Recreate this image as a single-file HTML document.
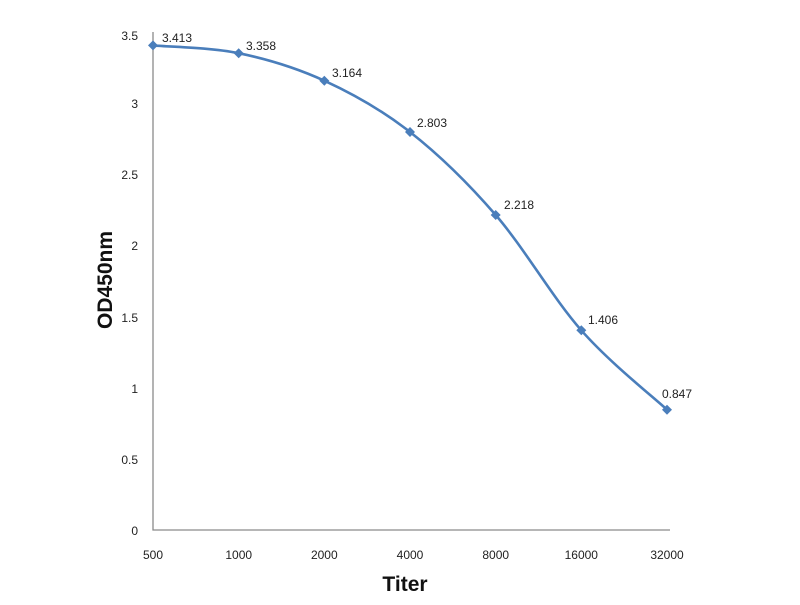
<!DOCTYPE html>
<html><head><meta charset="utf-8"><style>html,body{margin:0;padding:0;background:#fff}</style></head>
<body>
<svg width="800" height="600" xmlns="http://www.w3.org/2000/svg" font-family="Liberation Sans, sans-serif">
<rect width="800" height="600" fill="#fff"/>
<path d="M153,32 V530 H670" fill="none" stroke="#8a8a8a" stroke-width="1.3"/>
<g font-size="12" fill="#222" text-anchor="end">
<text x="138" y="40">3.5</text><text x="138" y="108">3</text><text x="138" y="179">2.5</text>
<text x="138" y="250">2</text><text x="138" y="322">1.5</text><text x="138" y="393">1</text>
<text x="138" y="464">0.5</text><text x="138" y="535">0</text>
</g>
<g font-size="12" fill="#222" text-anchor="middle">
<text x="153" y="559">500</text><text x="238.7" y="559">1000</text><text x="324.3" y="559">2000</text>
<text x="410" y="559">4000</text><text x="495.7" y="559">8000</text><text x="581.3" y="559">16000</text><text x="667" y="559">32000</text>
</g>
<path d="M153,45.4 C167.3,46.7 210.1,47.3 238.7,53.2 C267.2,59.1 295.7,67.6 324.3,80.7 C352.8,93.8 381.4,109.6 410,132 C438.6,154.4 467.1,182 495.7,215 C524.2,248 552.7,297.9 581.3,330.3 C609.9,362.8 652.7,396.5 667,409.7" fill="none" stroke="#4a7ebb" stroke-width="2.6"/>
<g fill="#4a7ebb">
<path d="M153,40.4 l5,5 l-5,5 l-5,-5z"/><path d="M238.7,48.2 l5,5 l-5,5 l-5,-5z"/>
<path d="M324.3,75.7 l5,5 l-5,5 l-5,-5z"/><path d="M410,127 l5,5 l-5,5 l-5,-5z"/>
<path d="M495.7,210 l5,5 l-5,5 l-5,-5z"/><path d="M581.3,325.3 l5,5 l-5,5 l-5,-5z"/>
<path d="M667,404.7 l5,5 l-5,5 l-5,-5z"/>
</g>
<g font-size="12" fill="#222">
<text x="162" y="42">3.413</text><text x="246" y="50">3.358</text><text x="332" y="77">3.164</text>
<text x="417" y="127">2.803</text><text x="504" y="209">2.218</text><text x="588" y="324">1.406</text><text x="662" y="398">0.847</text>
</g>
<text x="405" y="591" font-size="21" font-weight="bold" text-anchor="middle" fill="#111">Titer</text>
<text transform="translate(112,280) rotate(-90)" font-size="21" font-weight="bold" text-anchor="middle" fill="#111">OD450nm</text>
</svg>
</body></html>
